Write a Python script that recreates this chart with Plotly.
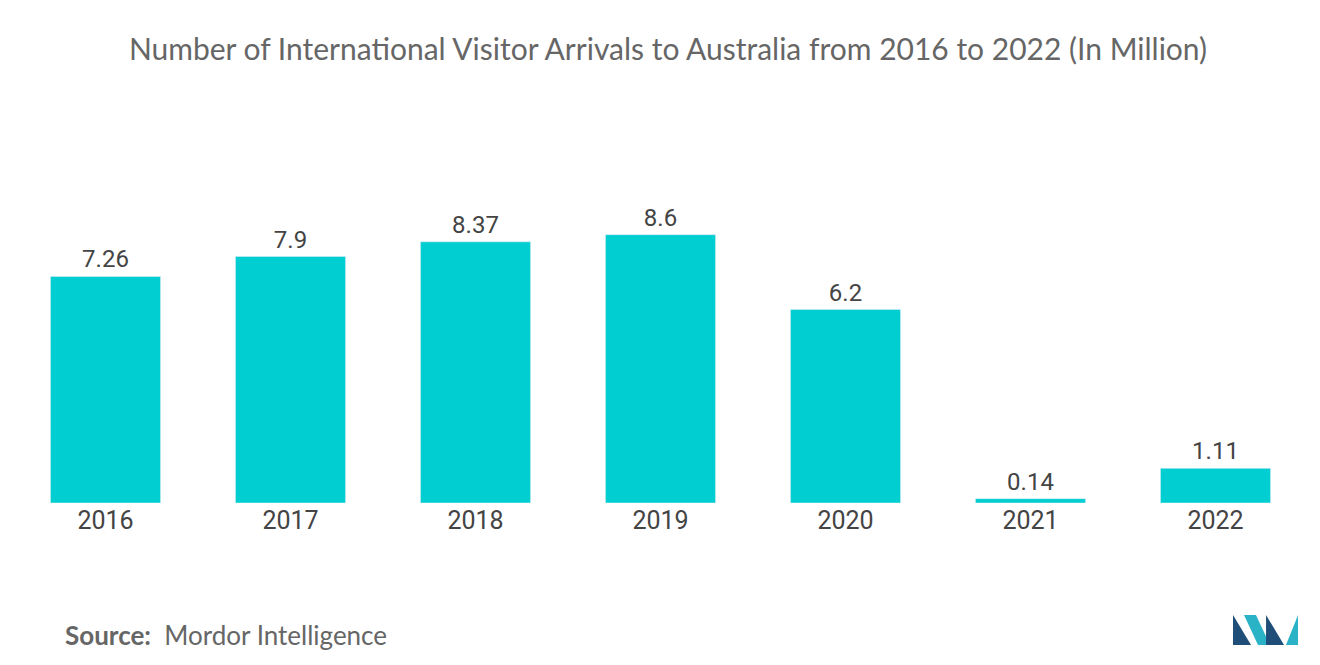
import plotly.graph_objects as go

# data
years = ["2016", "2017", "2018", "2019", "2020", "2021", "2022"]
arrivals = [7.26, 7.9, 8.37, 8.6, 6.2, 0.14, 1.11]
labels = ["7.26", "7.9", "8.37", "8.6", "6.2", "0.14", "1.11"]

W, H = 1320, 665
l, r, t, b = 5, 20, 183, 170

fig = go.Figure(go.Bar(
    x=years,
    y=arrivals,
    text=labels,
    textposition="outside",
    textfont=dict(size=24, color="#444444", family="Roboto"),
    marker_color="#00CED1",
    cliponaxis=False,
))

fig.update_layout(
    width=W, height=H,
    plot_bgcolor="white", paper_bgcolor="white",
    margin=dict(l=l, r=r, t=t, b=b, autoexpand=False),
    bargap=0.405,
    showlegend=False,
    title=dict(
        text="Number of International Visitor Arrivals to Australia from 2016 to 2022 (In Million)",
        x=0.5, xanchor="center", y=0.937, yanchor="middle",
        font=dict(size=30, color="#666666", family="Lato"),
    ),
    xaxis=dict(tickfont=dict(size=25, color="#444444", family="Roboto"),
               showline=False, ticks="", showgrid=False, automargin=False),
    yaxis=dict(visible=False, range=[0, 10], showgrid=False, automargin=False),
)

pw, ph = W - l - r, H - t - b

def px(x, y):
    return (x - l) / pw, (H - b - y) / ph

sx, sy = px(55, 627)
fig.add_annotation(
    text="<b>Source:</b>  Mordor Intelligence",
    xref="paper", yref="paper", x=sx, y=sy,
    xanchor="left", yanchor="middle", showarrow=False,
    font=dict(size=26, color="#666666", family="Lato"),
)

# logo in the bottom-right corner
logo = [
    ([(1225, 637), (1225, 607), (1243, 637)], "#1f4e79"),
    ([(1236, 607), (1248, 607), (1262, 637), (1250, 637)], "#2ab3c6"),
    ([(1258, 637), (1258, 607), (1276, 637)], "#1f4e79"),
    ([(1278, 637), (1290, 637), (1290, 607)], "#2ab3c6"),
]
for pts, col in logo:
    coords = [px(x, y) for x, y in pts]
    path = "M " + " L ".join(f"{a:.4f} {c:.4f}" for a, c in coords) + " Z"
    fig.add_shape(type="path", path=path, xref="paper", yref="paper",
                  fillcolor=col, line_width=0)

fig.write_html("out.html")
